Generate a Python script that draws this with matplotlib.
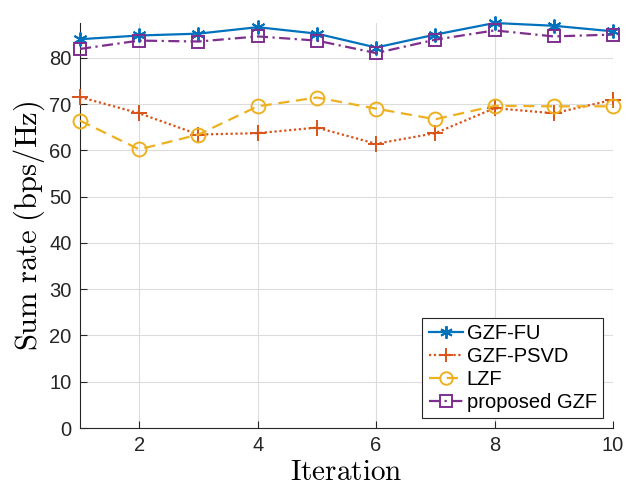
import matplotlib
matplotlib.use("Agg")
import matplotlib.pyplot as plt

iterations = [1, 2, 3, 4, 5, 6, 7, 8, 9, 10]
gzf_fu = [84.0, 84.8, 85.2, 86.6, 85.2, 82.2, 85.0, 87.5, 86.9, 85.7]
gzf_psvd = [71.5, 68.0, 63.4, 63.7, 64.9, 61.4, 63.7, 69.1, 68.0, 70.9]
lzf = [66.4, 60.2, 63.4, 69.5, 71.4, 69.0, 66.7, 69.6, 69.5, 69.5]
proposed_gzf = [81.9, 83.7, 83.5, 84.6, 83.7, 81.0, 83.9, 85.9, 84.6, 85.0]

labels = ["GZF-FU", "GZF-PSVD", "LZF", "proposed GZF"]
colors = ["#0072BD", "#D95319", "#EDB120", "#7E2F8E"]

plt.rcParams["font.family"] = ["Liberation Sans", "DejaVu Sans"]
plt.rcParams["mathtext.fontset"] = "cm"

fig = plt.figure(figsize=(6.26, 4.87), dpi=100)
ax = fig.add_axes([80 / 626, 1 - 428 / 487, (613 - 80) / 626, (428 - 23) / 487])

lw = 1.6
common = dict(lw=lw, mew=1.4, clip_on=False, zorder=3)
ax.plot(iterations, gzf_fu, color=colors[0], ls="-", marker=(6, 2, 0),
        ms=10, label=labels[0], **common)
ax.plot(iterations, gzf_psvd, color=colors[1], ls=(0, (1, 1.2)), marker="+",
        ms=11, label=labels[1], **common)
ax.plot(iterations, lzf, color=colors[2], ls=(0, (5, 3)), marker="o",
        ms=10, mfc="none", label=labels[2], **common)
ax.plot(iterations, proposed_gzf, color=colors[3], ls=(0, (5, 2, 1, 2)), marker="s",
        ms=9, mfc="none", label=labels[3], **common)

all_vals = gzf_fu + gzf_psvd + lzf + proposed_gzf
ax.set_xlim(1, 10)
ax.set_ylim(0, max(all_vals))
ax.set_xticks([2, 4, 6, 8, 10])
ax.set_yticks(range(0, 90, 10))
ax.tick_params(axis="both", labelsize=14.5, direction="in", length=5, width=0.8,
               colors="#262626", pad=6)
ax.grid(True, color="#dcdcdc", lw=0.8)
ax.set_axisbelow(True)
for side in ("top", "right"):
    ax.spines[side].set_visible(False)
for side in ("left", "bottom"):
    ax.spines[side].set_color("#262626")
    ax.spines[side].set_linewidth(0.8)

ax.set_xlabel(r"$\mathrm{Iteration}$", fontsize=21, labelpad=2)
ax.set_ylabel(r"$\mathrm{Sum\ rate\ (bps/Hz)}$", fontsize=22, labelpad=2)

leg = ax.legend(loc="lower right", fontsize=14.5, frameon=True, fancybox=False,
                edgecolor="#262626", framealpha=1, handlelength=1.7,
                handletextpad=0.2, borderpad=0.3, labelspacing=0.2,
                borderaxespad=0.5, markerscale=0.9)
leg.get_frame().set_linewidth(0.8)

fig.savefig("out.png", dpi=100)
